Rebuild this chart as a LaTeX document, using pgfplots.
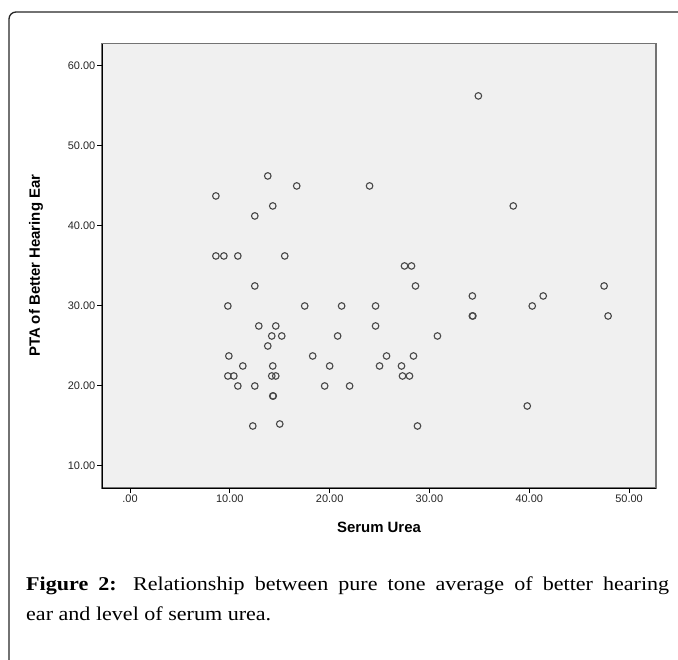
\documentclass[border=0pt]{standalone}
\usepackage{pgfplots}
\pgfplotsset{compat=1.18}
\usepackage{fontspec}
\setmainfont{Liberation Sans}
\newfontfamily\capfont[FakeStretch=1.13]{Liberation Serif}
\definecolor{bgc}{HTML}{F0F0F0}
\definecolor{mk}{HTML}{484848}
\begin{document}
\begin{tikzpicture}
\path[use as bounding box] (0,0) rectangle (678bp,-660bp);
\draw[line width=1.3bp, black!85, rounded corners=7bp] (678bp,-12bp) -- (9bp,-12bp) -- (9bp,-660bp);
\begin{axis}[
  at={(102bp,-43.5bp)}, anchor=north west,
  width=554bp, height=444.5bp, scale only axis,
  xmin=-2.81, xmax=52.7, ymin=7.25, ymax=62.8,
  axis background/.style={fill=bgc, draw=black!55, line width=1.2bp},
  axis x line*=bottom, axis y line*=left,
  axis line style={-, black, line width=1bp},
  tick align=outside, major tick length=5bp,
  tick style={black, line width=1bp},
  xtick={0,10,20,30,40,50},
  xticklabels={.00,10.00,20.00,30.00,40.00,50.00},
  ytick={10,20,30,40,50,60},
  yticklabels={10.00,20.00,30.00,40.00,50.00,60.00},
  ticklabel style={font=\fontsize{11}{12}\selectfont, text=black!85},
  xticklabel style={inner sep=2bp},
  yticklabel style={inner sep=1.5bp},
  xlabel={Serum Urea},
  ylabel={PTA of Better Hearing Ear},
  label style={font=\bfseries\fontsize{15}{16}\selectfont},
  xlabel style={at={(axis description cs:0.5,-0.0877)}, anchor=center},
  ylabel style={at={(axis description cs:-0.119,0.5)}, anchor=center},
  clip=false,
]
\addplot[only marks, mark=o, mark size=3.3bp, mark options={draw=mk, line width=1.1bp}] coordinates {
(8.6,43.75) (13.8,46.25) (16.7,45) (24.0,45) (14.3,42.5) (12.5,41.25)
(8.6,36.25) (9.4,36.25) (10.8,36.25) (15.5,36.25) (12.5,32.5)
(9.8,30) (17.5,30) (21.2,30) (24.6,30)
(12.9,27.5) (14.6,27.5) (24.6,27.5)
(14.2,26.25) (15.2,26.25) (20.8,26.25)
(13.8,25) (9.9,23.75) (18.3,23.75)
(11.3,22.5) (14.3,22.5) (20.0,22.5) (25.0,22.5)
(9.8,21.25) (10.4,21.25) (14.2,21.25) (14.6,21.25)
(10.8,20) (12.5,20) (19.5,20) (22.0,20)
(14.3,18.75) (14.35,18.75)
(12.3,15) (15.0,15.25)
(40.3,30) (34.3,28.75) (34.35,28.75) (47.9,28.75)
(30.8,26.25) (25.7,23.75) (28.4,23.75)
(27.2,22.5) (27.3,21.25) (28.0,21.25)
(39.8,17.5) (28.8,15)
(34.9,56.25) (38.4,42.5) (27.5,35) (28.2,35) (28.6,32.5)
(34.3,31.25) (41.4,31.25) (47.5,32.5)
};
\end{axis}
\node[anchor=north west, text width=643bp, align=justify, inner sep=0pt,
      font={\capfont\fontsize{19.6}{30}\selectfont}] at (26bp,-576.6bp)
  {\textbf{Figure 2:} Relationship between pure tone average of better hearing\linebreak ear and level of serum urea.\par};
\end{tikzpicture}
\end{document}
